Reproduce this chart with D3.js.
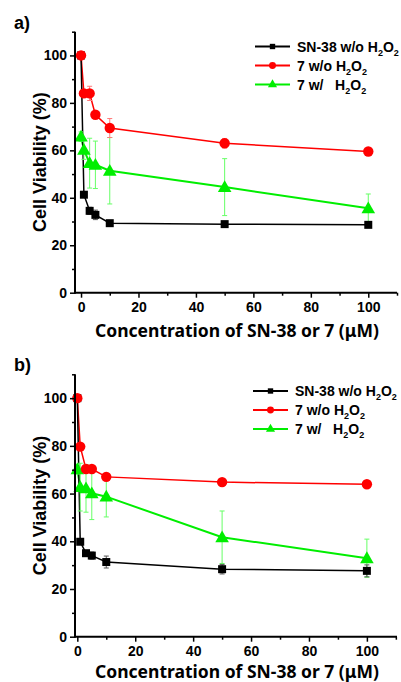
<!DOCTYPE html>
<html>
<head>
<meta charset="utf-8">
<script src="https://cdn.jsdelivr.net/npm/d3@7"></script>
<style>
  body { margin: 0; background: #fff; }
  svg { display: block; }
  text { font-family: Arial, "Liberation Sans", sans-serif; font-weight: bold; }
</style>
</head>
<body>
<div id="chart"></div>
<script>
// --------------------------------------
//  Data
// --------------------------------------

const concentrations = [0, 1, 3, 5, 10, 50, 100];
const xTicks = [0, 20, 40, 60, 80, 100];
const yTicks = [0, 20, 40, 60, 80, 100];
const seriesNames = ["SN-38 w/o H2O2", "7 w/o H2O2", "7 w/ H2O2"];

// panel a
const sn38A = [100, 41.3, 34.5, 32.8, 29.3, 28.9, 28.6];
const sn38ErrA = [0, 1, 1.5, 2, 1, 1, 1];
const redA = [100, 84, 84, 75, 69.4, 63, 59.5];
const redErrA = [1, 1, 3, 1.5, 4, 2, 1];
const greenA = [65.8, 60.2, 54.6, 53.9, 51.4, 44.5, 35.6];
const greenErrA = [2, 4, 10.5, 10, 14, 12, 6];

// panel b
const sn38B = [100, 39.8, 35, 34, 31.3, 28.3, 27.6];
const sn38ErrB = [0, 1, 1, 1.5, 2.5, 2, 2.5];
const redB = [100, 79.7, 70.3, 70.3, 67, 64.8, 63.9];
const redErrB = [1, 1, 1.5, 1.5, 1.5, 1, 1];
const greenB = [70.2, 62.7, 62.2, 60.1, 58.7, 41.7, 32.9];
const greenErrB = [2, 10, 10, 11, 8.5, 11, 8];

// --------------------------------------
//  Canvas
// --------------------------------------

const width = 401;
const height = 682;

const svg = d3.select("#chart")
  .append("svg")
    .attr("width", width)
    .attr("height", height);

const colors = ["#000000", "#ff0000", "#00ee00"];
const errColors = ["#555555", "#ff7a7a", "#66ff66"];

const symbols = [d3.symbolSquare, d3.symbolCircle, d3.symbolTriangle];
const symSizes = [64, 85, 80];

// --------------------------------------
//  Panel drawing
// --------------------------------------

function drawPanel(p) {
  const x = d3.scaleLinear().domain(p.xDomain).range([p.left, p.right]);
  const y = d3.scaleLinear().domain([0, 110]).range([p.bottom, p.top]);
  const g = svg.append("g");

  // panel label
  g.append("text")
    .attr("x", 14).attr("y", p.labelY)
    .attr("font-size", 18)
    .text(p.label);

  const series = [
    {vals: p.sn38, err: p.sn38Err},
    {vals: p.red, err: p.redErr},
    {vals: p.green, err: p.greenErr}
  ];

  const line = d3.line()
    .x((d, i) => x(concentrations[i]))
    .y(d => y(d));

  // lines
  [2, 1, 0].forEach(k => {
    g.append("path")
      .attr("d", line(series[k].vals))
      .attr("fill", "none")
      .attr("stroke", colors[k])
      .attr("stroke-width", k === 2 ? 2 : 1.5);
  });

  // error bars
  [2, 1, 0].forEach(k => {
    const s = series[k];
    const eb = g.append("g").attr("stroke", errColors[k]).attr("stroke-width", 1);
    s.vals.forEach((v, i) => {
      if (s.err[i] <= 0) return;
      const cx = x(concentrations[i]);
      const y0 = y(v - s.err[i]);
      const y1 = y(v + s.err[i]);
      eb.append("line").attr("x1", cx).attr("x2", cx).attr("y1", y0).attr("y2", y1);
      eb.append("line").attr("x1", cx - 2.5).attr("x2", cx + 2.5).attr("y1", y0).attr("y2", y0);
      eb.append("line").attr("x1", cx - 2.5).attr("x2", cx + 2.5).attr("y1", y1).attr("y2", y1);
    });
  });

  // markers
  [0, 2, 1].forEach(k => {
    g.append("g")
      .selectAll("path")
      .data(series[k].vals)
      .join("path")
      .attr("d", d3.symbol(symbols[k], symSizes[k]))
      .attr("transform", (d, i) => `translate(${x(concentrations[i])},${y(d) + (k === 2 ? 1 : 0)})`)
      .attr("fill", colors[k]);
  });

  // axes
  const xAxis = g.append("g")
    .attr("transform", `translate(0,${p.bottom})`)
    .call(d3.axisBottom(x).tickValues(xTicks).tickSize(5).tickPadding(4));
  xAxis.append("g")
    .call(d3.axisBottom(x).tickValues(d3.range(10, 111, 20)).tickSize(3).tickFormat(""));
  const yAxis = g.append("g")
    .attr("transform", `translate(${p.left},0)`)
    .call(d3.axisLeft(y).tickValues(yTicks).tickSize(5).tickPadding(3));
  yAxis.append("g")
    .call(d3.axisLeft(y).tickValues(d3.range(10, 111, 20)).tickSize(3).tickFormat(""));

  [xAxis, yAxis].forEach(a => {
    a.selectAll("line").attr("stroke-width", 1.5);
    a.selectAll("text")
      .attr("font-size", 14)
      .attr("fill", "#000");
    a.selectAll(".domain").remove();
  });
  g.append("line")
    .attr("x1", p.left).attr("x2", p.right)
    .attr("y1", p.bottom).attr("y2", p.bottom)
    .attr("stroke", "#000").attr("stroke-width", 2);
  g.append("line")
    .attr("x1", p.left).attr("x2", p.left)
    .attr("y1", p.top).attr("y2", p.bottom + 1)
    .attr("stroke", "#000").attr("stroke-width", 2);

  // axis titles
  g.append("text")
    .attr("x", 237).attr("y", p.bottom + p.titleOffset)
    .attr("text-anchor", "middle")
    .attr("font-size", 17.5)
    .style("font-family", "'Noto Sans', sans-serif")
    .text("Concentration of SN-38 or 7 (\u03bcM)");

  g.append("text")
    .attr("transform", `translate(46,${(p.top + p.bottom) / 2}) rotate(-90)`)
    .attr("text-anchor", "middle")
    .attr("font-size", 18)
    .text("Cell Viability (%)");

  // legend
  const leg = g.append("g").attr("transform", `translate(${p.legX},${p.legY})`);
  const legNames = [["SN-38 w/o H", "O"], ["7 w/o H", "O"], ["7 w/   H", "O"]];
  legNames.forEach((nm, k) => {
    const row = leg.append("g").attr("transform", `translate(0,${k * 19})`);
    row.append("line")
      .attr("x1", 0).attr("x2", 35)
      .attr("stroke", colors[k]).attr("stroke-width", 2);
    row.append("path")
      .attr("d", d3.symbol(symbols[k], symSizes[k] * 0.45))
      .attr("transform", "translate(17.5,0)")
      .attr("fill", colors[k]);
    const t = row.append("text")
      .attr("x", 42).attr("y", 5)
      .attr("font-size", 14)
      .style("white-space", "pre");
    t.append("tspan").text(nm[0]);
    t.append("tspan").attr("dy", 4).attr("font-size", 9).text("2");
    t.append("tspan").attr("dy", -4).text(nm[1]);
    t.append("tspan").attr("dy", 4).attr("font-size", 9).text("2");
  });
}

drawPanel({
  label: "a)", labelY: 29,
  left: 75, right: 397, top: 31.7, bottom: 292.7,
  xDomain: [-2.1, 110],
  titleOffset: 44,
  legX: 255, legY: 46.5,
  sn38: sn38A, sn38Err: sn38ErrA,
  red: redA, redErr: redErrA,
  green: greenA, greenErr: greenErrA
});

drawPanel({
  label: "b)", labelY: 371,
  left: 75, right: 397, top: 374.3, bottom: 636.7,
  xDomain: [-0.8, 110.4],
  titleOffset: 41.3,
  legX: 253, legY: 391,
  sn38: sn38B, sn38Err: sn38ErrB,
  red: redB, redErr: redErrB,
  green: greenB, greenErr: greenErrB
});
</script>
</body>
</html>
